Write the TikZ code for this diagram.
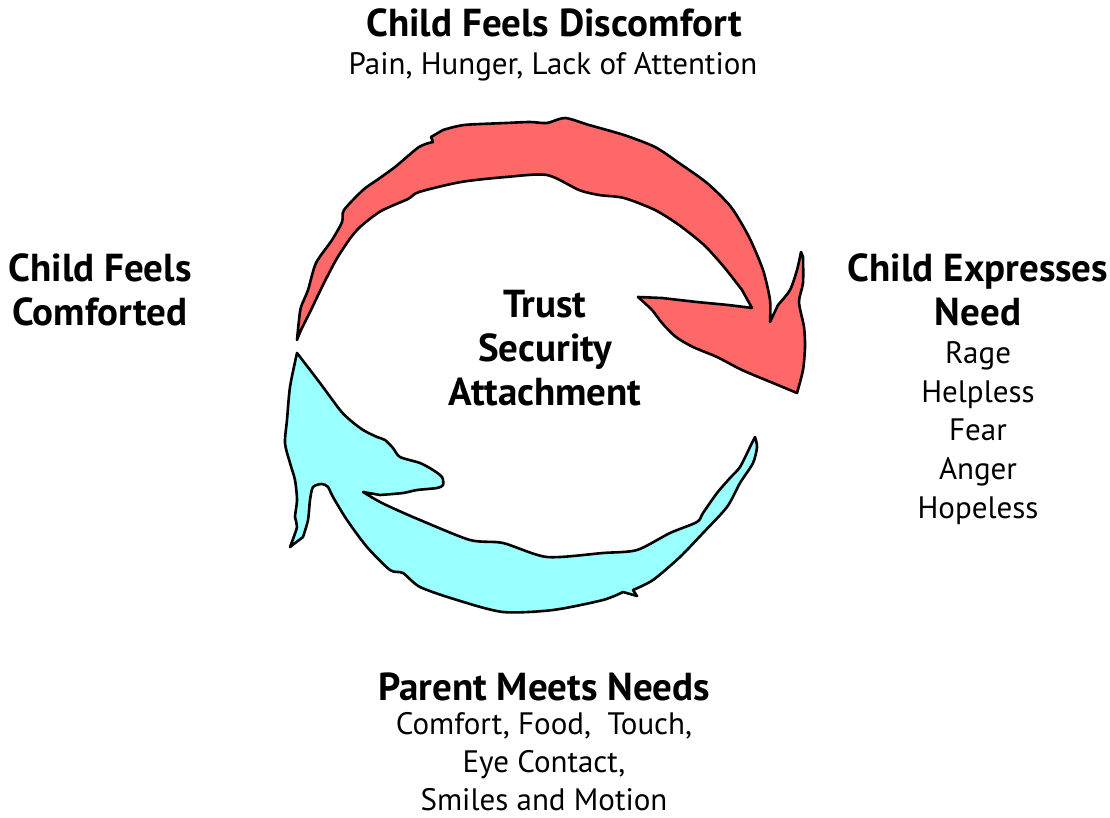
\documentclass[tikz,border=0pt]{standalone}
\usepackage{fontspec}
\setmainfont{PT Sans}
\definecolor{redfill}{HTML}{FF6868}
\definecolor{cyanfill}{HTML}{99FFFF}
\begin{document}
\begin{tikzpicture}[x=1pt,y=-1pt,
  band/.style={draw=black,line width=2.6pt,line join=round},
  sm/.style={smooth,tension=0.45},
  ttl/.style={anchor=base,inner sep=0pt,font=\fontsize{39}{44}\selectfont\bfseries},
  sub/.style={anchor=base,inner sep=0pt,font=\fontsize{31}{38}\selectfont}]
\useasboundingbox (0,0) rectangle (1110,818);
\fill[white] (0,0) rectangle (1110,818);
% red arrow
\path[band,fill=redfill] plot[sm] coordinates {(297,340) (299,320) (301,307) (308,290) (316,263) (332,240)
 (342,222) (344,210) (363,190) (377,180) (395,167) (419,147) (433,142)}
 -- (431,137) -- plot[sm] coordinates {(443,130) (464,125) (506,123) (530,122) (547,123) (565,118)
 (589,125) (624,135) (655,147) (679,163) (707,183) (731,207) (749,237)
 (763,270) (770,300) (770,322)}
 -- plot[sm] coordinates {(778,305) (790,290) (797,270) (801,252)}
 -- plot[sm] coordinates {(803,257) (803,283) (799,302)
 (804,327) (805,347) (803,370) (797,393)}
 -- plot[sm] coordinates {(773,383) (742,370) (717,357) (693,347) (676,337) (662,323) (652,310)
 (638,297)} -- plot[sm] coordinates {(662,298) (697,302) (728,305) (752,308)}
 -- plot[sm] coordinates {(742,290) (724,267) (704,245) (679,225) (655,210) (624,198) (599,195)
 (579,190) (547,175) (506,177) (461,182) (419,192) (408,199) (381,211)
 (360,227) (349,240) (336,260) (322,287) (311,310) (301,330) (297,340)} -- cycle;
% cyan arrow
\path[band,fill=cyanfill] plot[sm] coordinates {(297,353) (290,387) (287,420) (285,443) (290,463)
 (295,480) (297,500) (295,517) (297,527) (290,547)}
 -- plot[sm] coordinates {(303,537) (308,520) (310,500) (313,487) (322,484) (328,487) (333,497)
 (347,520) (367,547) (390,570) (403,573) (420,587) (457,600) (503,612)
 (553,610) (603,600) (623,592)} -- (637,596) -- plot[sm] coordinates {(633,590) (653,580) (680,557)
 (703,533) (727,507) (740,483) (753,463) (757,447) (755,437)}
 -- plot[sm] coordinates {(750,447) (740,467) (730,478) (717,493) (703,513) (697,522) (670,533)
 (637,550) (603,553) (547,557) (503,543) (470,540) (420,520) (397,510)
 (380,502) (363,492)}
 -- plot[sm] coordinates {(380,495) (403,493) (417,490) (437,488) (443,485) (442,477) (433,470)
 (420,463) (400,457) (393,448) (385,440) (377,437) (363,430) (350,420)
 (340,410) (320,383) (297,353)} -- cycle;
% texts
\node[ttl] (t1) at (554,37) {Child Feels Discomfort};
\node[sub] (s1) at (553,75) {Pain, Hunger, Lack of Attention};
\node[ttl] (l1) at (100,281) {Child Feels};
\node[ttl] (l2) at (100,325) {Comforted};
\node[ttl] (r1) at (978,281) {Child Expresses};
\node[ttl] (r2) at (978,325) {Need};
\node[sub] (r3) at (978,363) {Rage};
\node[sub] (r4) at (978,402) {Helpless};
\node[sub] (r5) at (978,440) {Fear};
\node[sub] (r6) at (978,479) {Anger};
\node[sub] (r7) at (978,518) {Hopeless};
\node[ttl] (c1) at (545,317) {Trust};
\node[ttl] (c2) at (545,361) {Security};
\node[ttl] (c3) at (545,405) {Attachment};
\node[ttl] (b1) at (544,700) {Parent Meets Needs};
\node[sub] (b2) at (544,734) {Comfort, Food,\ \ Touch,};
\node[sub] (b3) at (544,772) {Eye Contact,};
\node[sub] (b4) at (544,810) {Smiles and Motion};
\end{tikzpicture}
\end{document}
